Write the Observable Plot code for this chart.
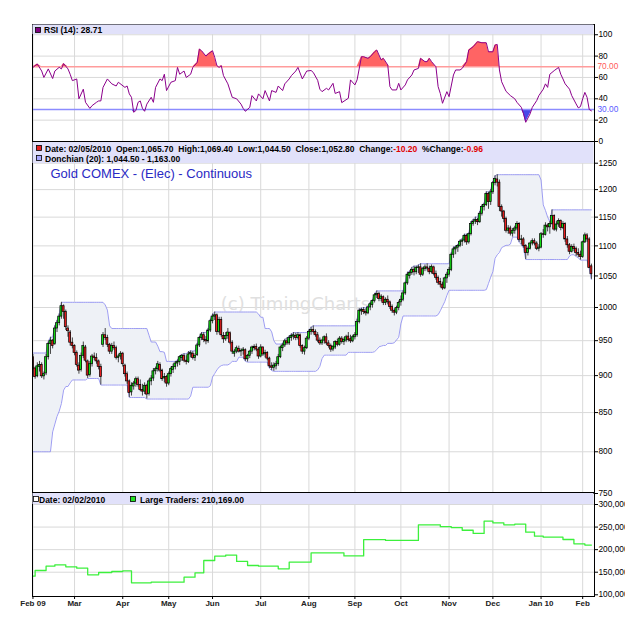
<!DOCTYPE html>
<html><head><meta charset="utf-8">
<script src="https://cdn.jsdelivr.net/npm/d3@7"></script>
<script src="https://cdn.jsdelivr.net/npm/@observablehq/plot@0.6"></script>
<style>
body{margin:0;background:#fff;}
#chart{position:relative;width:625px;height:623px;overflow:hidden;background:#fff;font-family:"Liberation Sans",Arial,sans-serif;}
#chart svg{position:absolute;left:0;}
</style></head><body><div id="chart"></div>
<script>
// ---------- DATA ----------
// trading-day index 0 = Feb 2 2009 ... 255 = Feb 5 2010
const opens = [
926,910,899,912,915,899,903,926,945,950,945,968,976,986,1002,993,968,962,947,
942,932,914,908,928,940,920,901,916,927,925,920,912,944,958,954,944,934,942,939,925,927,
931,914,902,892,877,885,889,895,887,880,878,886,875,892,896,906,909,915,907,896,898,
889,902,908,912,917,919,925,928,921,919,930,931,925,929,943,954,958,951,949,965,
979,986,988,963,981,957,952,957,961,947,931,934,938,934,935,936,923,928,934,939,941,937,
927,940,930,932,924,913,911,913,916,926,939,943,949,946,954,956,957,954,958,942,934,939,
953,963,966,963,958,950,946,950,955,946,942,937,940,948,944,953,948,950,956,952,949,
955,958,978,994,996,993,991,1000,1004,1010,1019,1021,1013,1016,1007,1012,1008,1001,995,992,999,
1008,1012,1022,1038,1050,1055,1060,1056,1063,1064,1052,1061,1064,1062,1056,1064,1053,1047,1040,1036,1030,1046,
1052,1060,1085,1094,1097,1100,1107,1109,1117,1106,1120,1138,1142,1145,1141,1156,1168,1172,1192,1177,
1195,1212,1219,1213,1168,1160,1147,1126,1130,1121,1126,1130,1138,1110,1111,1100,1088,1095,1104,1108,1104,1095,
1097,1120,1119,1135,1132,1138,1152,1128,1137,1143,1131,1138,1111,1101,1090,1098,1095,1088,1085,
1081,1106,1118,1111,1065.7];
const highs = [
930,912,918,920,918,905,930,948,955,952,972,980,990,1008,1004,996,972,965,954,
944,935,918,932,948,943,922,920,930,932,931,922,916,962,968,958,946,946,948,942,930,934,
933,916,905,894,890,892,898,898,894,888,890,888,895,900,910,912,920,918,909,903,900,
905,912,916,920,922,928,930,931,928,934,935,934,931,946,956,962,962,956,968,982,
990,993,990,985,985,962,962,968,963,950,937,942,942,938,940,938,930,936,942,944,945,940,
944,941,936,934,926,918,918,920,930,942,946,952,954,957,960,962,961,962,960,944,942,956,
966,970,972,966,962,954,952,957,960,950,945,943,950,952,956,956,954,958,962,958,958,
962,982,998,999,1000,998,1002,1008,1012,1022,1026,1024,1020,1018,1015,1018,1010,1004,998,1002,1010,
1018,1026,1040,1056,1058,1064,1066,1066,1068,1070,1064,1068,1070,1066,1068,1066,1058,1050,1046,1040,1048,1056,
1064,1088,1098,1100,1102,1110,1112,1120,1120,1122,1142,1146,1150,1148,1160,1172,1175,1196,1195,1200,
1215,1226,1228,1218,1172,1162,1150,1135,1134,1130,1134,1142,1140,1118,1114,1102,1098,1106,1112,1112,1107,1102,
1123,1128,1140,1138,1142,1163,1154,1142,1147,1145,1142,1140,1116,1104,1102,1103,1098,1095,1091,
1108,1122,1121,1114,1069.4];
const lows = [
907,895,897,905,896,894,900,922,930,938,943,962,972,982,982,965,955,942,938,
928,912,902,905,924,918,896,898,912,921,916,908,887,940,950,940,930,930,936,922,918,922,
912,898,888,870,872,880,884,884,878,872,874,868,872,886,892,901,905,904,892,890,884,
886,898,903,908,912,914,920,918,915,917,925,922,920,927,940,950,947,944,946,962,
975,980,958,960,955,946,949,952,944,930,926,931,932,927,929,920,919,924,930,935,934,923,
925,927,925,921,910,907,906,908,913,924,934,940,943,943,949,951,950,951,939,930,929,937,
950,958,960,955,947,943,943,945,943,939,933,934,937,941,942,945,943,947,948,946,947,
951,955,975,988,989,987,989,995,999,1007,1014,1009,1009,1003,1003,1004,997,991,987,989,995,
1002,1009,1019,1035,1045,1051,1050,1052,1054,1048,1049,1057,1058,1052,1053,1050,1043,1035,1031,1027,1028,1038,
1048,1057,1079,1085,1089,1097,1099,1105,1101,1103,1117,1134,1137,1135,1139,1152,1161,1169,1164,1171,
1191,1207,1205,1160,1150,1140,1122,1120,1117,1115,1120,1126,1106,1102,1096,1077,1083,1093,1100,1100,1092,1090,
1095,1113,1117,1124,1120,1136,1125,1124,1132,1126,1128,1106,1096,1085,1088,1090,1082,1080,1076,
1079,1104,1106,1062,1044.5];
const closes = [
910,898,913,915,899,902,926,945,950,942,968,976,986,1002,993,970,964,947,942,
932,915,907,928,942,921,900,916,927,925,920,912,898,958,954,944,934,942,939,925,927,931,
916,902,892,876,886,889,895,887,880,878,886,874,892,896,906,909,916,907,895,898,889,
902,909,912,917,919,926,928,921,919,930,932,925,928,943,954,959,951,949,965,979,
986,988,963,981,958,952,957,962,947,934,934,939,934,935,937,923,928,934,940,941,937,927,
940,930,932,924,913,911,914,916,926,940,943,949,946,954,957,958,954,958,942,934,939,953,
963,966,963,958,950,946,950,955,946,942,937,941,948,944,953,948,951,955,951,949,955,
958,978,995,996,993,991,1000,1005,1010,1019,1021,1013,1017,1007,1012,1008,1001,995,992,999,1007,
1012,1022,1038,1052,1055,1060,1056,1063,1064,1052,1061,1064,1062,1056,1065,1053,1047,1039,1036,1030,1046,1052,
1060,1085,1094,1097,1100,1107,1109,1117,1106,1120,1138,1142,1145,1141,1156,1168,1172,1192,1177,1195,
1212,1220,1213,1168,1160,1147,1126,1130,1121,1126,1130,1138,1110,1111,1100,1088,1095,1104,1108,1104,1095,1097,
1120,1119,1135,1132,1138,1152,1128,1137,1143,1131,1138,1111,1101,1090,1098,1095,1088,1085,1081,
1106,1118,1111,1063,1052.8];
// the 19 sessions before Feb 2 2009 (Jan 5 .. Jan 30), only used to seed the Donchian window
const priorHighs = [870,870,862,860,862,858,825,825,820,842,852,860,862,902,912,910,902,910,932];
const priorLows  = [848,852,838,835,848,818,812,805,800,825,835,845,852,862,880,888,885,890,905];

const rsiDays = [0,2,4,5,7,9,10,12,13,14,16,17,18,20,21,23,24,26,27,29,30,31,32,34,36,38,39,42,43,44,45,46,47,48,49,50,51,52,54,55,56,58,59,60,61,63,65,66,67,69,70,72,73,75,76,77,79,80,82,83,84,85,86,87,89,91,93,95,96,97,99,100,102,103,105,106,108,109,111,112,114,115,117,118,120,121,123,125,127,128,130,131,132,134,135,137,138,140,141,144,145,147,148,150,151,153,154,156,157,159,160,162,163,164,166,167,168,170,171,173,174,176,177,179,180,181,182,184,185,186,187,189,190,192,193,195,196,198,199,201,203,205,207,208,210,211,212,213,214,216,218,220,221,223,224,225,227,228,230,231,233,234,235,236,238,240,241,242,243,245,246,248,249,250,251,252,253,254,255];
const rsiValues = [69.4,72.6,66,60,68,59,66,69.5,68,73,68,63,57,58.6,40,49,36.7,31,33.6,36.7,38,38,50.7,58.6,54,52,55.5,50.7,52,44.6,41.4,27.4,29,36.7,38,31,28.3,35,41.4,36.7,50.7,58.6,57,63,47.7,55.5,57,69.4,63,66,60,63,69.4,74,86.6,85,80,82,85,78.8,71,69.4,71,61.7,54,41.4,40,35,31,28.3,32,43,38,44.6,40,47.7,38,47.7,46,52,47.7,54,58.6,61.7,66,69.4,58.6,66,66.5,64.7,57.3,49,46.7,49.8,48.3,54.5,45,46.7,36.4,40.5,57.7,53,57.7,79.4,79.4,77.9,79.4,84,85.7,76.4,77.9,71.7,51.4,48.3,48.3,54.5,48.3,53,57.7,62.3,67,68.5,77.9,74.8,74.8,77.9,74.8,70,51.4,45,35.8,46.7,42,62.3,67,67,68.5,74.8,85.7,88.8,93.5,92.5,92.5,84,84,90.3,90.9,67,56,47,43,40,36.7,32,25.9,18,25.9,32,38.3,43,49,54,50.7,63,66.4,69.4,63,58.6,54,49,43,35.2,31.5,32.7,40,46,41.4,30,28.71];

const traderDays   = [0,1,6,10,15,20,25,30,36,41,45,54,69,74,78,83,88,93,98,103,112,117,127,142,151,161,176,186,191,196,201,206,210,215,220,225,229,233,242,247,252,255];
const traderValues = [141200,153800,163300,166400,162000,159000,144300,149400,151600,153000,126600,127900,139000,148700,176000,185500,188000,173800,164900,163300,157600,172200,193000,186000,222000,220500,255000,251000,249000,243000,236000,263000,259500,255000,256400,238700,229800,227600,222500,213000,210169,210169];

const monthTickDays   = [0,19,41,62,82,104,126,147,168,190,210,232,251];
const monthTickLabels = ["Feb 09","Mar","Apr","May","Jun","Jul","Aug","Sep","Oct","Nov","Dec","Jan 10","Feb"];
const rsiTicks    = [0,20,40,60,80,100];
const priceTicks  = [750,800,850,900,950,1000,1050,1100,1150,1200,1250];
const traderTicks = [100000,150000,200000,250000,300000];

const titleText   = "Gold COMEX - (Elec) - Continuous";
const rsiHeader   = "RSI (14): 28.71";
const priceHeader = [["Date: 02/05/2010  Open:1,065.70  High:1,069.40  Low:1,044.50  Close:1,052.80  Change:","#000"],["-10.20","#e00000"],["  %Change:","#000"],["-0.96","#e00000"]];
const donchHeader = "Donchian (20): 1,044.50 - 1,163.00";
const cotDate     = "Date: 02/02/2010";
const cotHeader   = "Large Traders: 210,169.00";
const watermark   = "(c) TimingCharts.com";

// ---------- derived tables ----------
const candles = closes.map((c,k)=>({day:k, open:opens[k], high:highs[k], low:lows[k], close:c}));
const allHighs = priorHighs.concat(highs), allLows = priorLows.concat(lows), P = priorHighs.length;
const channel = closes.map((c,k)=>{
  let hi=-Infinity, lo=Infinity;
  for(let j=k+P-19;j<=k+P;j++){hi=Math.max(hi,allHighs[j]);lo=Math.min(lo,allLows[j]);}
  return {day:k, upper:hi, lower:lo};
});
const rsiData = rsiDays.map((d,k)=>({day:d, v:rsiValues[k]}));
const traders = traderDays.map((d,k)=>({day:d, v:traderValues[k]}));

// ---------- plots ----------
const xDom = [-0.2, 256.4];
const GRID = "#d9d9d9";
const style = {fontFamily:"'Liberation Sans', Arial, sans-serif", fontSize:"8.3px", background:"transparent", color:"#000", overflow:"visible"};
const root = document.getElementById("chart");
function place(svg, top){ svg.style.top = top+"px"; root.appendChild(svg); }

const rsiPlot = Plot.plot({
  width:625, height:145, marginLeft:32, marginRight:31, marginTop:24, marginBottom:4, style,
  x:{domain:xDom, axis:null},
  y:{domain:[0,109.6], axis:null},
  marks:[
    Plot.gridX({ticks:monthTickDays, stroke:GRID, strokeOpacity:1}),
    Plot.gridY({ticks:[20,40,60,80,100], stroke:GRID, strokeOpacity:1}),
    Plot.areaY(rsiData,{x:"day", y1:70, y2:d=>Math.max(70,d.v), fill:"#ff6464"}),
    Plot.areaY(rsiData,{x:"day", y1:d=>Math.min(30,d.v), y2:30, fill:"#4848e8"}),
    Plot.ruleY([70],{stroke:"#ff9c9c", strokeWidth:1.5}),
    Plot.ruleY([30],{stroke:"#8c8cff", strokeWidth:1.5}),
    Plot.line(rsiData,{x:"day", y:"v", stroke:"#8b008b", strokeWidth:1}),
    Plot.axisY({anchor:"right", ticks:rsiTicks, tickSize:3, tickPadding:1, label:null}),
    Plot.text([70],{x:()=>xDom[1], y:d=>d, text:d=>d.toFixed(2), dx:3, textAnchor:"start", fill:"#ff5a5a", fontSize:8.3}),
    Plot.text([30],{x:()=>xDom[1], y:d=>d, text:d=>d.toFixed(2), dx:3, textAnchor:"start", fill:"#5a5aff", fontSize:8.3}),
    Plot.frame({stroke:"#000"})
  ]
});
place(rsiPlot, 0);

const pricePlot = Plot.plot({
  width:625, height:360, marginLeft:32, marginRight:31, marginTop:4, marginBottom:4, style,
  x:{domain:xDom, axis:null},
  y:{type:"log", domain:[750,1292.7], axis:null},
  marks:[
    Plot.gridX({ticks:monthTickDays, stroke:GRID, strokeOpacity:1}),
    Plot.gridY({ticks:priceTicks, stroke:GRID, strokeOpacity:1}),
    Plot.text([watermark],{frameAnchor:"middle", dx:4, dy:-13, fontSize:18, fontFamily:"'DejaVu Sans', sans-serif", fill:"#e0e0e0"}),
    Plot.areaY(channel,{x:"day", y1:"lower", y2:"upper", fill:"#eef1f6", clip:true}),
    Plot.line(channel,{x:"day", y:"upper", stroke:"#9d9df2", strokeWidth:1, clip:true}),
    Plot.line(channel,{x:"day", y:"lower", stroke:"#9d9df2", strokeWidth:1, clip:true}),
    Plot.ruleX(candles,{x:"day", y1:"low", y2:"high", stroke:"#444", strokeWidth:1, clip:true}),
    Plot.rect(candles,{x1:d=>d.day-0.45, x2:d=>d.day+0.45, y1:"open", y2:d=>d.close===d.open?d.close+0.3:d.close,
      fill:d=>d.close>=d.open?"#14dc14":"#ee2020", stroke:"#000", strokeWidth:0.7, clip:true}),
    Plot.axisY({anchor:"right", ticks:priceTicks, tickSize:3, tickPadding:1, tickFormat:d=>String(d), label:null}),
    Plot.frame({stroke:"#000"})
  ]
});
place(pricePlot, 137);

const cotPlot = Plot.plot({
  width:625, height:135, marginLeft:32, marginRight:31, marginTop:4, marginBottom:27, style,
  x:{domain:xDom, axis:null},
  y:{domain:[96200,326600], axis:null},
  marks:[
    Plot.gridX({ticks:monthTickDays, stroke:GRID, strokeOpacity:1}),
    Plot.gridY({ticks:[150000,200000,250000,300000], stroke:GRID, strokeOpacity:1}),
    Plot.line(traders,{x:"day", y:"v", curve:"step-after", stroke:"#3cf03c", strokeWidth:1.3}),
    Plot.axisY({anchor:"right", ticks:traderTicks, tickSize:3, tickPadding:1, tickFormat:d3.format(",.0f"), label:null}),
    Plot.axisX({ticks:monthTickDays, tickSize:3, tickPadding:1, fontWeight:"bold", fontSize:8, fill:"#222", label:null,
      tickFormat:d=>monthTickLabels[monthTickDays.indexOf(d)]}),
    Plot.frame({stroke:"#000"})
  ]
});
place(cotPlot, 488);

// ---------- header bands, legends, title ----------
const ov = d3.create("svg").attr("width",625).attr("height",623).style("top","0px")
  .style("font-family","'Liberation Sans', Arial, sans-serif");
function band(y,h){ ov.append("rect").attr("x",32.5).attr("y",y).attr("width",561).attr("height",h).attr("fill","#e1e1fa"); }
function sq(x,y,fill){ ov.append("rect").attr("x",x).attr("y",y).attr("width",5).attr("height",5).attr("fill",fill).attr("stroke","#000").attr("stroke-width",0.8); }
function txt(x,y,parts){
  const t = ov.append("text").attr("x",x).attr("y",y).attr("font-size",8.5).attr("font-weight","bold").style("white-space","pre");
  (typeof parts==="string"?[[parts,"#000"]]:parts).forEach(([s,c])=>t.append("tspan").attr("fill",c).text(s));
}
band(24.5,9.5);  sq(35.5,27.5,"#800080"); txt(44,33,rsiHeader);
band(142,21);    sq(36.5,145.5,"#e82020"); txt(45,151.5,priceHeader);
                 sq(36.5,155.5,"#a8a8ff"); txt(45,161.5,donchHeader);
ov.append("text").attr("x",50.5).attr("y",177.5).attr("font-size",13).attr("fill","#2a2ac4").text(titleText);
band(493,11);    sq(33.5,496.5,"#ffffff"); txt(39,502.5,cotDate);
                 sq(130.5,496.5,"#22e022"); txt(140,502.5,cotHeader);
root.appendChild(ov.node());
</script></body></html>
